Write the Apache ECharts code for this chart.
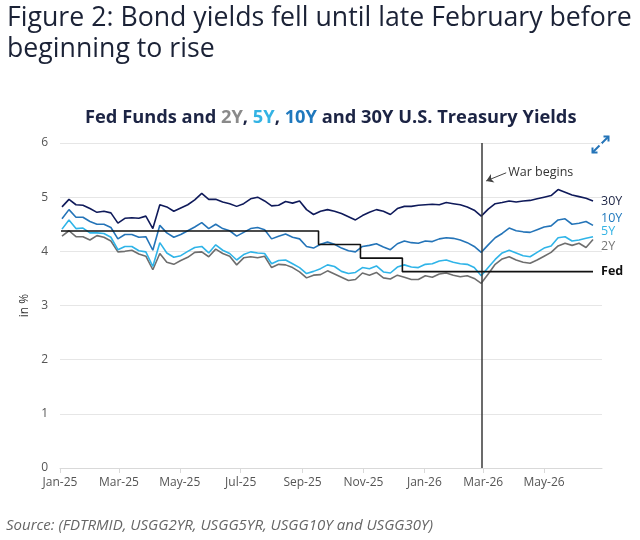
<!DOCTYPE html>
<html>
<head>
<meta charset="utf-8">
<script src="https://cdn.jsdelivr.net/npm/echarts@6/dist/echarts.min.js"></script>
<style>
  html, body { margin: 0; padding: 0; background: #fff; }
  #chart { width: 640px; height: 540px; }
</style>
</head>
<body>
<div id="chart"></div>
<script>
// weekly observations (Fridays)
const dates = [
  "2025-01-03", "2025-01-10", "2025-01-17", "2025-01-24", "2025-01-31",
  "2025-02-07", "2025-02-14", "2025-02-21", "2025-02-28",
  "2025-03-07", "2025-03-14", "2025-03-21", "2025-03-28",
  "2025-04-04", "2025-04-11", "2025-04-18", "2025-04-25",
  "2025-05-02", "2025-05-09", "2025-05-16", "2025-05-23", "2025-05-30",
  "2025-06-06", "2025-06-13", "2025-06-20", "2025-06-27",
  "2025-07-04", "2025-07-11", "2025-07-18", "2025-07-25",
  "2025-08-01", "2025-08-08", "2025-08-15", "2025-08-22", "2025-08-29",
  "2025-09-05", "2025-09-12", "2025-09-19", "2025-09-26",
  "2025-10-03", "2025-10-10", "2025-10-17", "2025-10-24", "2025-10-31",
  "2025-11-07", "2025-11-14", "2025-11-21", "2025-11-28",
  "2025-12-05", "2025-12-12", "2025-12-19", "2025-12-26",
  "2026-01-02", "2026-01-09", "2026-01-16", "2026-01-23", "2026-01-30",
  "2026-02-06", "2026-02-13", "2026-02-20", "2026-02-27",
  "2026-03-06", "2026-03-13", "2026-03-20", "2026-03-27",
  "2026-04-03", "2026-04-10", "2026-04-17", "2026-04-24",
  "2026-05-01", "2026-05-08", "2026-05-15", "2026-05-22", "2026-05-29",
  "2026-06-05", "2026-06-12", "2026-06-19",
];

const y30 = [
  4.82, 4.96, 4.86, 4.85, 4.79, 4.72, 4.74, 4.71, 4.52,
  4.61, 4.62, 4.61, 4.65, 4.42, 4.86, 4.82, 4.74,
  4.80, 4.86, 4.95, 5.07, 4.96, 4.96, 4.91, 4.88, 4.83,
  4.88, 4.97, 5.00, 4.93, 4.84, 4.85, 4.92, 4.89, 4.93,
  4.77, 4.68, 4.74, 4.77, 4.74, 4.70, 4.64, 4.58, 4.66,
  4.72, 4.77, 4.74, 4.68, 4.79, 4.83, 4.83, 4.85,
  4.86, 4.87, 4.86, 4.90, 4.88, 4.86, 4.82, 4.76, 4.65,
  4.78, 4.88, 4.90, 4.93, 4.91, 4.93, 4.94, 4.97,
  5.00, 5.03, 5.14, 5.09, 5.04, 5.01, 4.98, 4.93,
];

const y10 = [
  4.60, 4.77, 4.63, 4.63, 4.55, 4.50, 4.50, 4.44, 4.23,
  4.31, 4.31, 4.26, 4.27, 4.02, 4.48, 4.34, 4.26,
  4.31, 4.38, 4.45, 4.53, 4.42, 4.50, 4.42, 4.38, 4.28,
  4.35, 4.42, 4.44, 4.40, 4.23, 4.28, 4.32, 4.26, 4.23,
  4.09, 4.06, 4.13, 4.17, 4.13, 4.06, 4.01, 3.99, 4.09,
  4.11, 4.14, 4.08, 4.03, 4.14, 4.19, 4.16, 4.15,
  4.19, 4.18, 4.23, 4.25, 4.24, 4.21, 4.16, 4.09, 3.98,
  4.12, 4.25, 4.33, 4.43, 4.38, 4.36, 4.35, 4.40,
  4.45, 4.47, 4.58, 4.60, 4.50, 4.52, 4.55, 4.48,
];

const y5 = [
  4.41, 4.58, 4.42, 4.43, 4.34, 4.34, 4.33, 4.26, 4.03,
  4.09, 4.09, 4.01, 3.99, 3.72, 4.16, 3.97, 3.89,
  3.92, 4.00, 4.07, 4.09, 3.97, 4.12, 4.02, 3.96, 3.84,
  3.94, 3.99, 3.97, 3.96, 3.77, 3.83, 3.84, 3.77, 3.70,
  3.59, 3.63, 3.68, 3.75, 3.72, 3.63, 3.59, 3.61, 3.70,
  3.68, 3.73, 3.62, 3.60, 3.71, 3.75, 3.71, 3.70,
  3.76, 3.77, 3.82, 3.84, 3.80, 3.77, 3.76, 3.70, 3.55,
  3.70, 3.85, 3.97, 4.02, 3.97, 3.92, 3.90, 3.98,
  4.06, 4.10, 4.25, 4.27, 4.19, 4.21, 4.24, 4.27,
];

const y2 = [
  4.28, 4.38, 4.27, 4.27, 4.21, 4.29, 4.26, 4.19, 3.99,
  4.00, 4.02, 3.95, 3.91, 3.66, 3.96, 3.80, 3.76,
  3.83, 3.89, 3.98, 3.99, 3.90, 4.04, 3.96, 3.91, 3.75,
  3.88, 3.90, 3.88, 3.91, 3.70, 3.76, 3.75, 3.70, 3.62,
  3.51, 3.56, 3.57, 3.64, 3.58, 3.52, 3.46, 3.48, 3.60,
  3.56, 3.61, 3.51, 3.49, 3.56, 3.52, 3.48, 3.48,
  3.55, 3.52, 3.58, 3.60, 3.56, 3.53, 3.55, 3.50, 3.41,
  3.58, 3.76, 3.86, 3.90, 3.84, 3.80, 3.78, 3.84,
  3.91, 3.98, 4.10, 4.15, 4.11, 4.15, 4.07, 4.22,
];

// fed funds target midpoint, changes only on decision dates
const fedDates = ["2025-01-02", "2025-09-17", "2025-10-29", "2025-12-10", "2026-06-19"];
const fedRates = [4.375, 4.125, 3.875, 3.625, 3.625];

const warDate = "2026-02-28";
const monthNames = ["Jan", "Feb", "Mar", "Apr", "May", "Jun", "Jul", "Aug", "Sep", "Oct", "Nov", "Dec"];

const FONT = "Open Sans";
const pair = (xs, ys) => xs.map((d, i) => [d, ys[i]]);

function yieldSeries(name, values, color, labelColor, offsetY) {
  return {
    name: name,
    type: "line",
    data: pair(dates, values),
    showSymbol: false,
    symbol: "none",
    lineStyle: { color: color, width: 1.6 },
    itemStyle: { color: color },
    endLabel: {
      show: true,
      formatter: name,
      color: labelColor,
      fontSize: 12.5,
      fontFamily: FONT,
      distance: 8,
      offset: [0, offsetY],
    },
  };
}

const chart = echarts.init(document.getElementById("chart"));
const DAY = 24 * 3600 * 1000;

chart.setOption({
  animation: false,
  backgroundColor: "#fff",
  textStyle: { fontFamily: FONT },
  title: [
    {
      text: "Figure 2: Bond yields fell until late February before\nbeginning to rise",
      left: 2,
      top: -2,
      textStyle: {
        fontFamily: FONT,
        fontSize: 26.7,
        fontWeight: "normal",
        lineHeight: 31,
        color: "#1b2236",
      },
    },
    {
      text: "{a|Fed Funds and }{g|2Y}{a|, }{c|5Y}{a|, }{b|10Y}{a| and 30Y U.S. Treasury Yields}",
      left: 80,
      top: 104,
      textStyle: {
        rich: {
          a: { fontFamily: FONT, fontSize: 18.3, fontWeight: "bold", color: "#1c2444" },
          g: { fontFamily: FONT, fontSize: 18.3, fontWeight: "bold", color: "#8a8a8a" },
          c: { fontFamily: FONT, fontSize: 18.3, fontWeight: "bold", color: "#34b3e4" },
          b: { fontFamily: FONT, fontSize: 18.3, fontWeight: "bold", color: "#1f78bd" },
        },
      },
    },
  ],
  grid: { left: 60, right: 38, top: 143, bottom: 72 },
  xAxis: {
    type: "time",
    min: "2025-01-01",
    max: "2026-06-28",
    minInterval: 61 * DAY,
    maxInterval: 61 * DAY,
    axisLine: { lineStyle: { color: "#d9d9d9" } },
    axisTick: { show: true, length: 5, lineStyle: { color: "#d9d9d9" } },
    splitLine: { show: false },
    axisLabel: {
      color: "#555",
      fontSize: 12,
      fontFamily: FONT,
      margin: 9,
      formatter: (v) => {
        const d = new Date(v);
        return monthNames[d.getMonth()] + "-" + String(d.getFullYear()).slice(2);
      },
    },
  },
  yAxis: {
    type: "value",
    min: 0,
    max: 6,
    interval: 1,
    name: "in %",
    nameLocation: "middle",
    nameGap: 27,
    nameTextStyle: { color: "#333", fontSize: 12, fontFamily: FONT },
    axisLine: { show: false },
    axisTick: { show: false },
    axisLabel: { color: "#555", fontSize: 12, fontFamily: FONT, margin: 12 },
    splitLine: { lineStyle: { color: "#e6e6e6" } },
  },
  series: [
    yieldSeries("2Y", y2, "#6e6e6e", "#777", 7),
    yieldSeries("5Y", y5, "#2fb4e8", "#34b3e4", -5),
    yieldSeries("10Y", y10, "#2474b8", "#1f78bd", -7),
    Object.assign(yieldSeries("30Y", y30, "#0f1a5a", "#1c2444", 0), {
      markLine: {
        silent: true,
        symbol: "none",
        label: { show: false },
        lineStyle: { color: "#3a3a3a", width: 1.5, type: "solid" },
        data: [{ xAxis: warDate }],
      },
    }),
    {
      name: "Fed",
      type: "line",
      step: "end",
      data: pair(fedDates, fedRates),
      showSymbol: false,
      symbol: "none",
      z: 5,
      lineStyle: { color: "#111", width: 1.6 },
      itemStyle: { color: "#111" },
      endLabel: {
        show: true,
        formatter: "Fed",
        color: "#111",
        fontSize: 12.5,
        fontWeight: "bold",
        fontFamily: FONT,
        distance: 8,
      },
      markLine: {
        silent: true,
        symbol: ["none", "arrow"],
        symbolSize: 7,
        label: { show: false },
        lineStyle: { color: "#444", width: 1, type: "solid" },
        data: [[{ coord: ["2026-03-24", 5.45] }, { coord: ["2026-03-04", 5.3] }]],
      },
      markPoint: {
        silent: true,
        symbol: "circle",
        symbolSize: 0,
        label: {
          show: true,
          position: "right",
          distance: 0,
          formatter: "War begins",
          color: "#333",
          fontSize: 12.5,
          fontFamily: FONT,
        },
        data: [{ coord: ["2026-03-26", 5.45] }],
      },
    },
  ],
  graphic: [
    {
      type: "group",
      left: 590,
      top: 134,
      children: [
        { type: "polyline", shape: { points: [[10, 8], [17, 1]] }, style: { stroke: "#2474b8", lineWidth: 2 } },
        { type: "polyline", shape: { points: [[12, 1], [17, 1], [17, 6]] }, style: { stroke: "#2474b8", lineWidth: 2, fill: null } },
        { type: "polyline", shape: { points: [[8, 10], [1, 17]] }, style: { stroke: "#2474b8", lineWidth: 2 } },
        { type: "polyline", shape: { points: [[1, 12], [1, 17], [6, 17]] }, style: { stroke: "#2474b8", lineWidth: 2, fill: null } },
      ],
    },
    {
      type: "text",
      left: 6,
      top: 518,
      style: {
        text: "Source: (FDTRMID, USGG2YR, USGG5YR, USGG10Y and USGG30Y)",
        fontFamily: FONT,
        fontStyle: "italic",
        fontSize: 15,
        fill: "#666",
      },
    },
  ],
});
</script>
</body>
</html>
